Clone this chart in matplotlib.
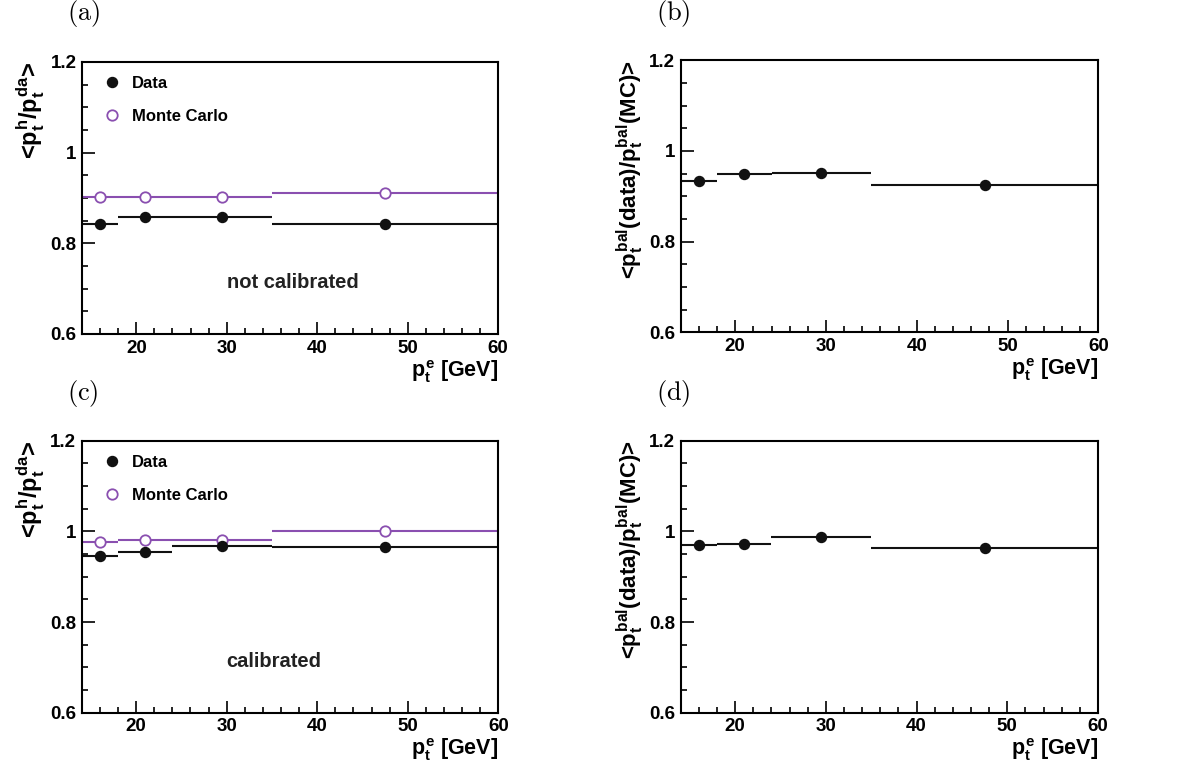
import matplotlib
matplotlib.use('Agg')
import matplotlib.pyplot as plt
from matplotlib.lines import Line2D
import numpy as np

plt.rcParams['font.family'] = 'Liberation Sans'
plt.rcParams['font.weight'] = 'bold'
plt.rcParams['axes.labelweight'] = 'bold'
plt.rcParams['mathtext.fontset'] = 'custom'
plt.rcParams['mathtext.rm'] = 'Liberation Sans:bold'
plt.rcParams['mathtext.it'] = 'Liberation Sans:bold'
plt.rcParams['mathtext.bf'] = 'Liberation Sans:bold'

# bins in p_t^e [GeV]
edges = [14, 18, 24, 35, 60]

# (a) not calibrated
data_a = [0.843, 0.857, 0.857, 0.843]
mc_a = [0.903, 0.903, 0.902, 0.911]
# (b) ratio, not calibrated
ratio_b = [0.934, 0.950, 0.951, 0.924]
# (c) calibrated
data_c = [0.946, 0.954, 0.967, 0.965]
mc_c = [0.977, 0.981, 0.981, 1.001]
# (d) ratio, calibrated
ratio_d = [0.969, 0.973, 0.987, 0.963]

purple = '#8a4fb0'
edges = np.array(edges)
centers = (edges[:-1] + edges[1:]) / 2
halfw = (edges[1:] - edges[:-1]) / 2

fig = plt.figure(figsize=(11.88, 7.74), dpi=100)
ax_a = fig.add_axes([0.0690, 0.5685, 0.3504, 0.3514])
ax_b = fig.add_axes([0.5730, 0.5707, 0.3515, 0.3514])
ax_c = fig.add_axes([0.0688, 0.0792, 0.3507, 0.3514])
ax_d = fig.add_axes([0.5730, 0.0792, 0.3512, 0.3514])


def style(ax, ylab, ysize):
    ax.set_xlim(14, 60)
    ax.set_ylim(0.6, 1.2)
    ax.set_xticks([20, 30, 40, 50, 60])
    ax.set_xticks(np.arange(14, 61, 2), minor=True)
    ax.set_yticks([0.6, 0.8, 1.0, 1.2])
    ax.set_yticklabels(['0.6', '0.8', '1', '1.2'])
    ax.set_yticks(np.arange(0.6, 1.201, 0.05), minor=True)
    ax.tick_params(which='both', direction='in', top=False, right=False,
                   width=1.2, labelsize=13.5, pad=4)
    ax.tick_params(which='major', length=9)
    ax.tick_params(which='minor', length=4.5)
    for s in ax.spines.values():
        s.set_linewidth(1.5)
    ax.set_xlabel(r'$p_t^e$ [GeV]', fontsize=15.5, loc='right', labelpad=1,
                  fontweight='bold')
    ax.set_ylabel(ylab, fontsize=ysize, loc='top', fontweight='bold')
    ax.yaxis.set_label_coords(-0.083, 1.0)


for ax, dat, mc, txt in [(ax_a, data_a, mc_a, 'not calibrated'),
                         (ax_c, data_c, mc_c, 'calibrated')]:
    ax.errorbar(centers, mc, xerr=halfw, fmt='o', color=purple, ms=7.5,
                mfc='white', mec=purple, mew=1.3, elinewidth=1.5, capsize=0)
    ax.errorbar(centers, dat, xerr=halfw, fmt='o', color='#111111', ms=7.2,
                elinewidth=1.5, capsize=0)
    style(ax, r'<$p_t^h$/$p_t^{da}$>', 17)
    h_da = Line2D([], [], ls='none', marker='o', color='#111111', ms=7.2)
    h_mc = Line2D([], [], ls='none', marker='o', mfc='white', mec=purple,
                  mew=1.3, ms=7.5)
    ax.legend([h_da, h_mc], ['Data', 'Monte Carlo'], loc='upper left',
              bbox_to_anchor=(0.0, 1.0), frameon=False, fontsize=12,
              handletextpad=0.22, labelspacing=1.1, borderaxespad=0.53,
              handlelength=1.96, borderpad=0.3)
    ax.text(0.348, 0.19, txt, transform=ax.transAxes, fontsize=14.5,
            ha='left', va='center', color='#222222')

for ax, rat in [(ax_b, ratio_b), (ax_d, ratio_d)]:
    ax.errorbar(centers, rat, xerr=halfw, fmt='o', color='#111111', ms=7.2,
                elinewidth=1.5, capsize=0)
    style(ax, r'<$p_t^{bal}$(data)/$p_t^{bal}$(MC)>', 16)

for x, y, lab in [(0.070, 0.982, '(a)'), (0.5665, 0.982, '(b)'),
                  (0.070, 0.492, '(c)'), (0.5665, 0.492, '(d)')]:
    fig.text(x, y, r'$\mathrm{' + lab + '}$', math_fontfamily='cm',
             fontsize=19, ha='center', va='center', fontweight='normal')

fig.savefig('out.png', dpi=100)
